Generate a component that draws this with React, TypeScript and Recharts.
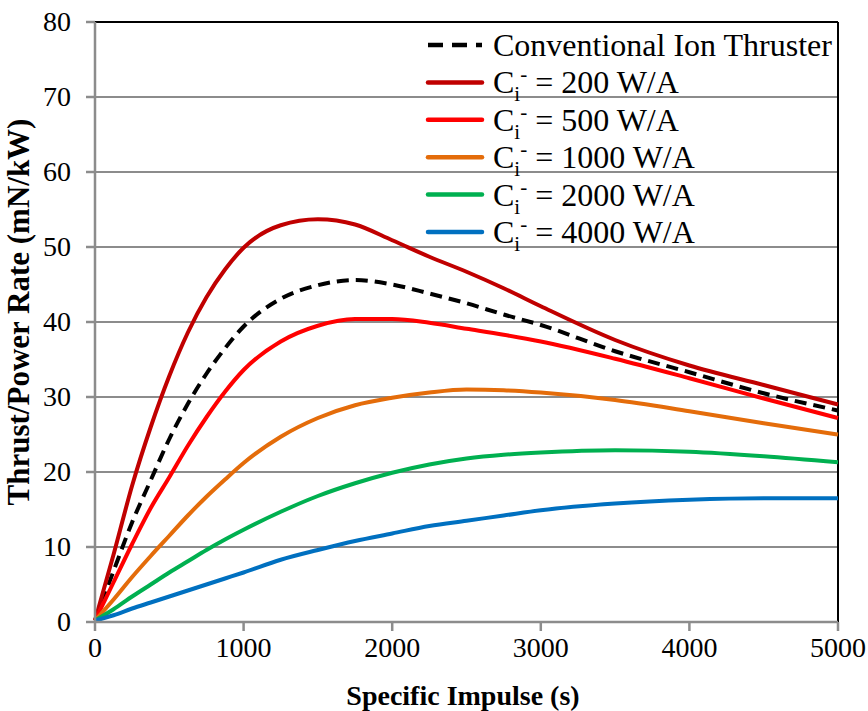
import React from 'react';
import { LineChart, Line, XAxis, YAxis, CartesianGrid, ReferenceLine, Legend } from 'recharts';

const FONT = "'Liberation Serif', 'DejaVu Serif', serif";

// specific impulse (s)
const isp = [0, 125, 250, 375, 500, 625, 750, 875, 1000, 1250, 1500, 1750, 2000, 2250, 2500, 2750, 3000, 3500, 4000, 4500, 5000];

// thrust/power (mN/kW)
const conventional = [0.2, 6.8, 13.3, 18.9, 24.4, 29.1, 33.1, 36.5, 39.4, 43.1, 44.9, 45.6, 45.0, 43.8, 42.5, 41.0, 39.6, 36.1, 33.3, 30.5, 28.2];
const ci200 = [0.2, 9.0, 18.2, 26.0, 32.8, 38.6, 43.3, 47.0, 49.9, 52.9, 53.7, 53.0, 50.9, 48.7, 46.7, 44.5, 42.1, 37.6, 34.2, 31.6, 29.0];
const ci500 = [0.2, 5.3, 10.4, 15.2, 19.3, 23.5, 27.3, 30.7, 33.6, 37.4, 39.5, 40.4, 40.4, 39.9, 39.1, 38.3, 37.4, 35.1, 32.5, 29.8, 27.2];
const ci1000 = [0.2, 3.0, 6.0, 8.8, 11.5, 14.2, 16.7, 19.0, 21.2, 24.7, 27.2, 28.9, 29.9, 30.6, 31.0, 30.9, 30.6, 29.6, 28.1, 26.5, 25.0];
const ci2000 = [0.2, 1.7, 3.4, 5.0, 6.6, 8.1, 9.6, 11.0, 12.3, 14.7, 16.8, 18.5, 19.9, 21.0, 21.8, 22.3, 22.6, 22.9, 22.7, 22.1, 21.3];
const ci4000 = [0.2, 0.9, 1.8, 2.6, 3.4, 4.2, 5.0, 5.8, 6.6, 8.3, 9.6, 10.8, 11.8, 12.8, 13.5, 14.2, 14.9, 15.8, 16.3, 16.5, 16.5];

const xTicks = [0, 1000, 2000, 3000, 4000, 5000];
const yTicks = [0, 10, 20, 30, 40, 50, 60, 70, 80];

const series = [
  { key: 'conv', ci: null, name: 'Conventional Ion Thruster', color: '#000000', dash: '12 7', values: conventional },
  { key: 'c200', ci: 200, name: ' = 200 W/A', color: '#C00000', dash: undefined, values: ci200 },
  { key: 'c500', ci: 500, name: ' = 500 W/A', color: '#FF0000', dash: undefined, values: ci500 },
  { key: 'c1000', ci: 1000, name: ' = 1000 W/A', color: '#E46C0A', dash: undefined, values: ci1000 },
  { key: 'c2000', ci: 2000, name: ' = 2000 W/A', color: '#00B050', dash: undefined, values: ci2000 },
  { key: 'c4000', ci: 4000, name: ' = 4000 W/A', color: '#0070C0', dash: undefined, values: ci4000 },
];

const data = isp.map((x, i) => {
  const row: any = { isp: x };
  series.forEach((s) => { row[s.key] = s.values[i]; });
  return row;
});

const GRID = '#8c8c8c';

const XTick = (props: any) => {
  const { x, y, payload } = props;
  return (
    <text x={x} y={y + 26} textAnchor="middle" fontFamily={FONT} style={{ fontFamily: FONT }} fontSize={28} fill="#000">
      {payload.value}
    </text>
  );
};

const YTick = (props: any) => {
  const { x, y, payload } = props;
  return (
    <text x={x} y={y + 9} textAnchor="end" fontFamily={FONT} style={{ fontFamily: FONT }} fontSize={28} fill="#000">
      {payload.value}
    </text>
  );
};

const LegendBox = () => (
  <svg width={430} height={240} style={{ display: 'block', overflow: 'visible' }}>
    {series.map((s, i) => {
      const cy = 21 + i * 37.4;
      const base = cy + 11;
      return (
        <g key={s.key}>
          <line x1={8} x2={62} y1={cy} y2={cy} stroke={s.color} strokeWidth={4.5}
            strokeDasharray={s.dash ? '15 9' : undefined} strokeLinecap={s.dash ? 'butt' : 'round'} />
          {s.ci === null ? (
            <text x={73} y={base} style={{ fontFamily: FONT }} fontSize={32} fill="#000">{s.name}</text>
          ) : (
            <text x={73} y={base} style={{ fontFamily: FONT }} fontSize={32} fill="#000">
              C
              <tspan fontSize={21} dy={8}>i</tspan>
              <tspan fontSize={21} dy={-20}>-</tspan>
              <tspan fontSize={32} dy={12}>{s.name}</tspan>
            </text>
          )}
        </g>
      );
    })}
  </svg>
);

export default function App() {
  return (
    <div style={{ width: 868, height: 711, background: '#fff', fontFamily: FONT }}>
      <style>{'body{margin:0}'}</style>
      <LineChart width={868} height={711} data={data} margin={{ top: 22, right: 30, bottom: 0, left: 0 }}>
        <CartesianGrid vertical={false} stroke={GRID} strokeWidth={2} />
        <XAxis
          dataKey="isp"
          type="number"
          domain={[0, 5000]}
          ticks={xTicks}
          height={89}
          stroke={GRID}
          strokeWidth={2.5}
          tickSize={9}
          tickMargin={0}
          tick={<XTick />}
          label={{
            content: () => (
              <text x={463} y={705} textAnchor="middle" fontFamily={FONT} style={{ fontFamily: FONT }} fontSize={28} fontWeight="bold" fill="#000">
                Specific Impulse (s)
              </text>
            ),
          }}
        />
        <YAxis
          type="number"
          domain={[0, 80]}
          ticks={yTicks}
          width={95}
          stroke={GRID}
          strokeWidth={2.5}
          tickSize={9}
          tickMargin={15}
          tick={<YTick />}
          label={{
            content: () => (
              <text x={29} y={312} transform="rotate(-90 29 312)" textAnchor="middle" fontFamily={FONT} style={{ fontFamily: FONT }} fontSize={31} fontWeight="bold" fill="#000">
                Thrust/Power Rate (mN/kW)
              </text>
            ),
          }}
        />
        <ReferenceLine y={80} stroke="#000" strokeWidth={2} />
        <ReferenceLine x={5000} stroke="#000" strokeWidth={2} />
        <Legend
          layout="vertical"
          verticalAlign="middle"
          align="center"
          wrapperStyle={{ left: 420, top: 24, width: 430, height: 240 }}
          content={() => <LegendBox />}
        />
        {series.map((s) => (
          <Line
            key={s.key}
            type="monotone"
            dataKey={s.key}
            name={s.name}
            stroke={s.color}
            strokeWidth={4}
            strokeDasharray={s.dash}
            dot={false}
            activeDot={false}
            isAnimationActive={false}
          />
        ))}
      </LineChart>
    </div>
  );
}
